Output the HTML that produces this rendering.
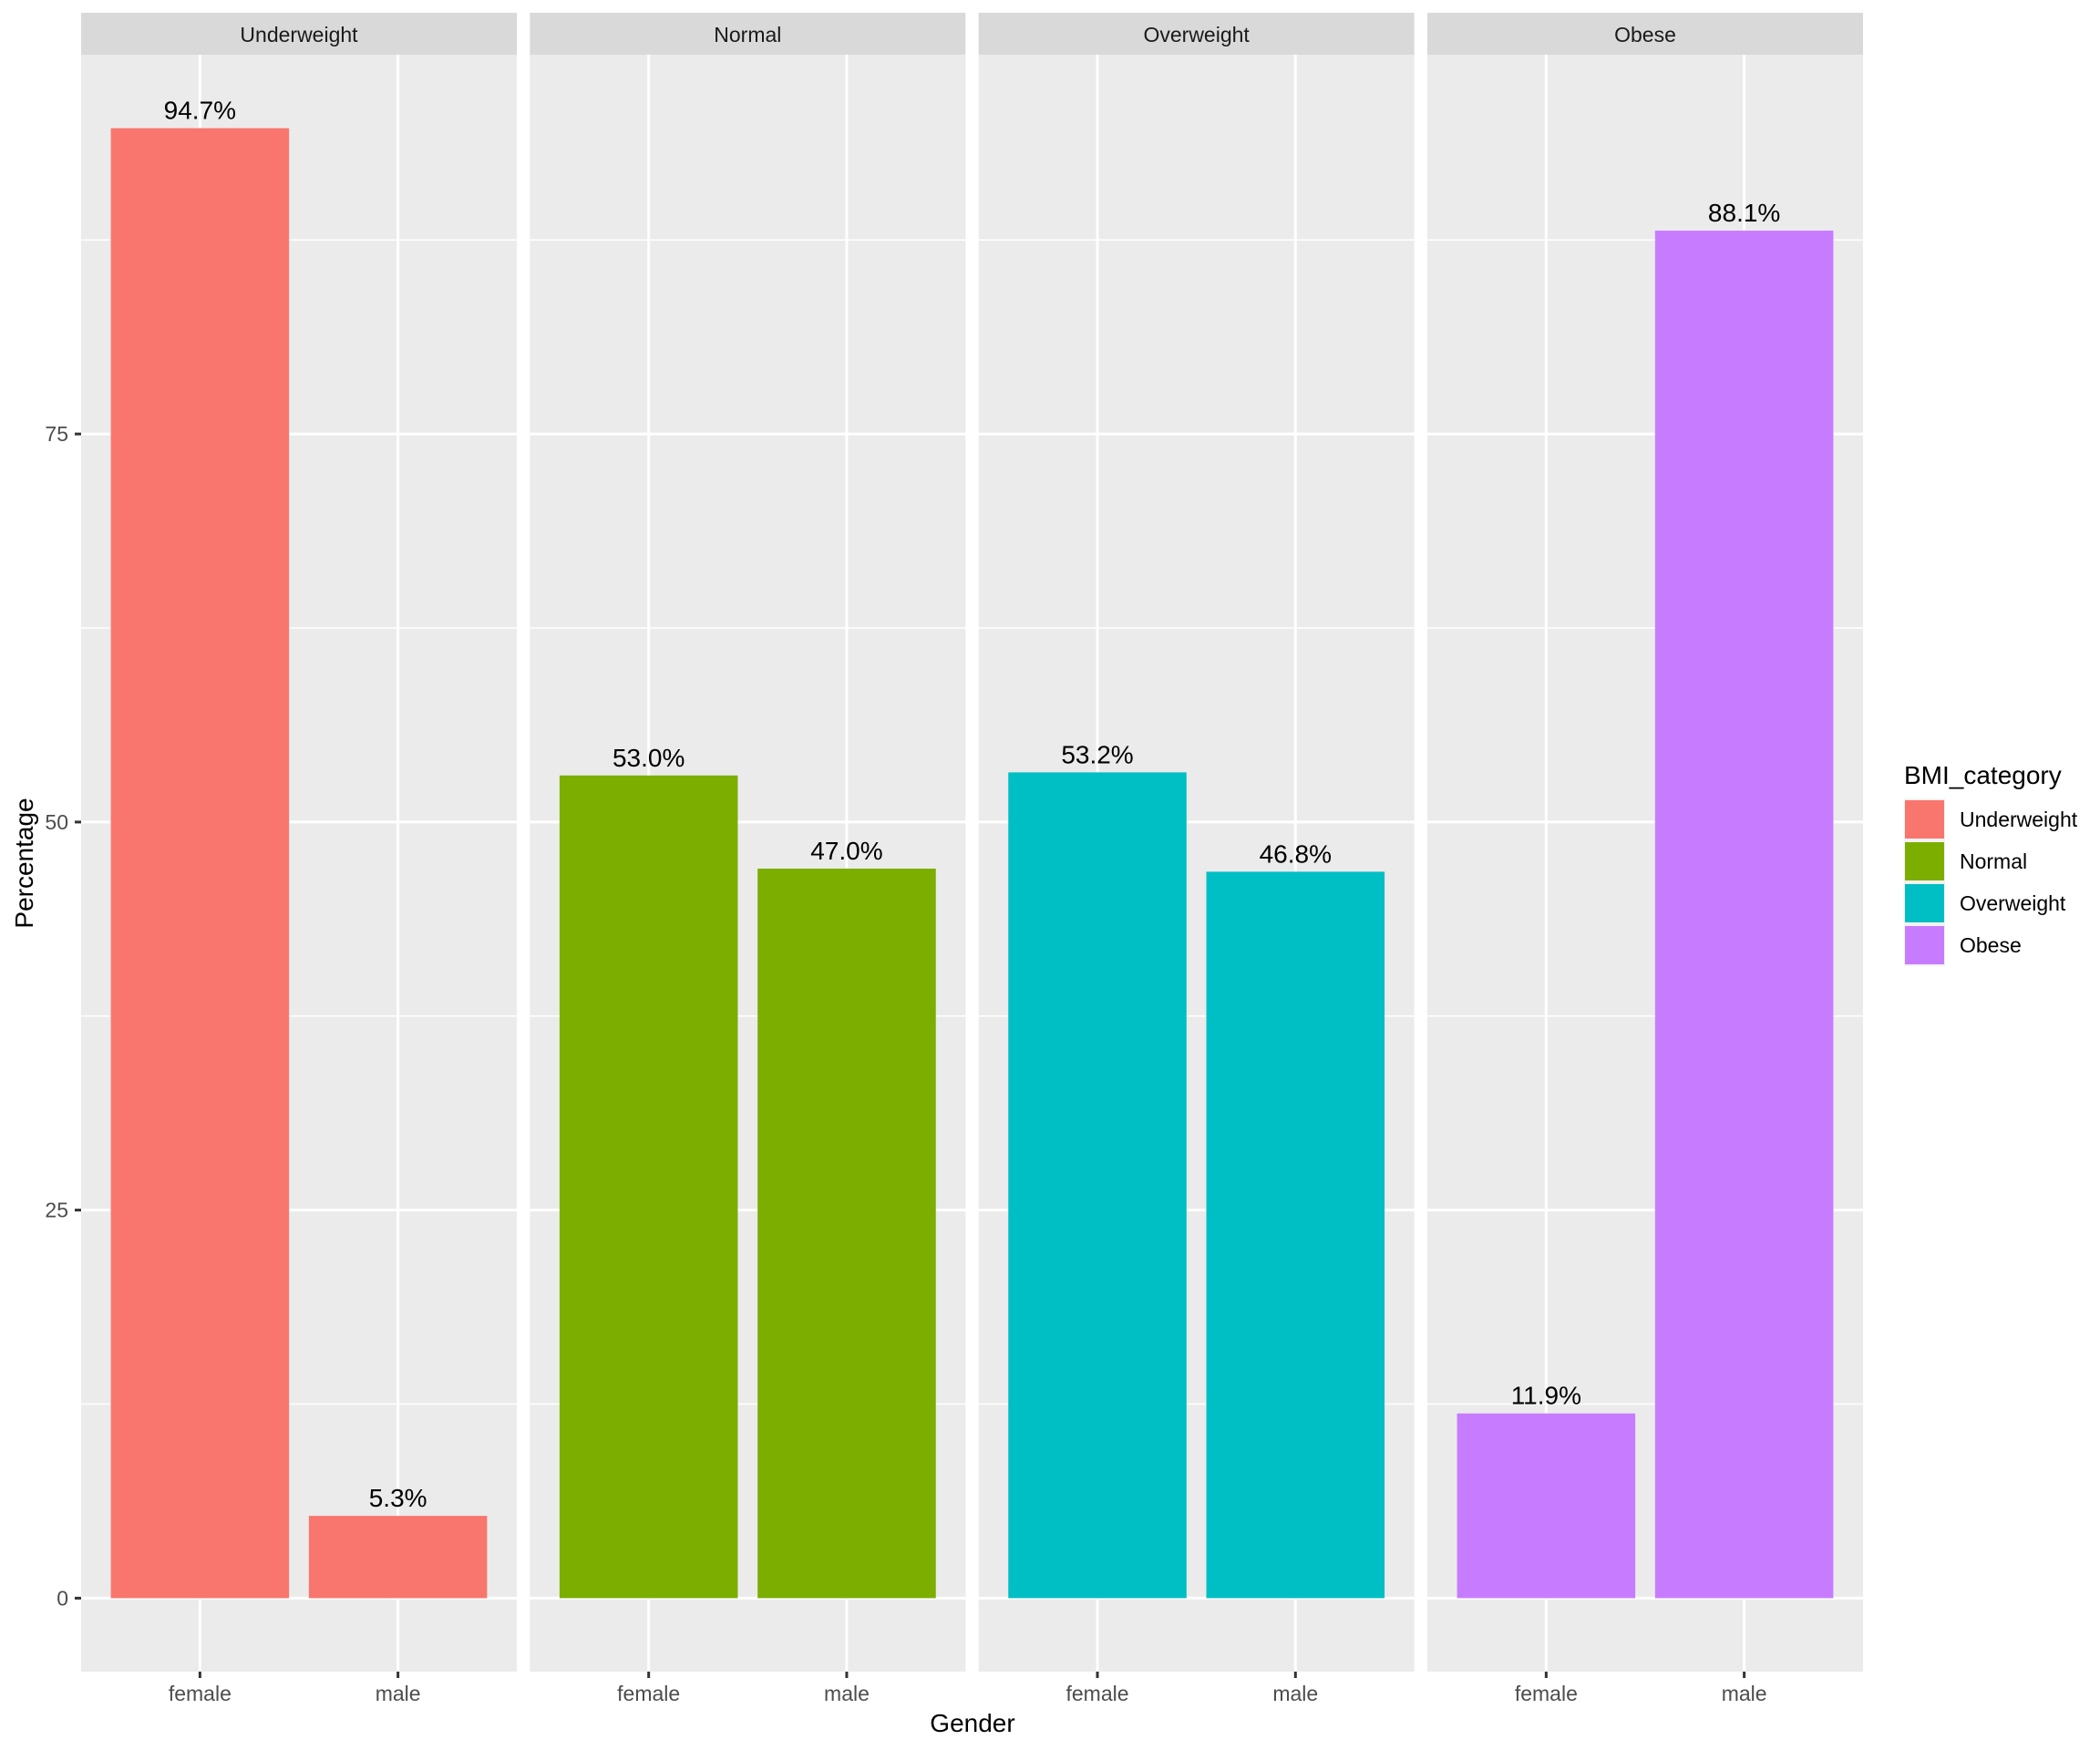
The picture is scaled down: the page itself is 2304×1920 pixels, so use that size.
<!DOCTYPE html>
<html><head><meta charset="utf-8"><style>body{margin:0;background:#fff}svg{display:block}</style></head><body>
<svg width="2304" height="1920" xmlns="http://www.w3.org/2000/svg" font-family="Liberation Sans, Arial, sans-serif">
<rect width="2304" height="1920" fill="#fff"/>
<g id="panels"></g>
<script>
(function(){
var ns="http://www.w3.org/2000/svg";
var g=document.getElementById('panels');
function el(t,a,txt){var e=document.createElementNS(ns,t);for(var k in a)e.setAttribute(k,a[k]);if(txt!=null)e.textContent=txt;g.appendChild(e);return e;}
var top=60,bot=1834,W=478,pitch=492.33,x0=89;
var zero=1753.4,pu=17.03;
function Y(v){return zero-v*pu;}
var names=["Underweight","Normal","Overweight","Obese"];
var cols=["#F8766D","#7CAE00","#00BFC4","#C77CFF"];
var vals=[[94.7,5.3],[53.0,47.0],[53.2,46.8],[11.9,88.1]];
var unit=W/2.2;
for(var i=0;i<4;i++){
 var px=x0+i*pitch;
 el('rect',{x:px,y:14,width:W,height:46,fill:'#D9D9D9'});
 el('text',{x:px+W/2,y:46,'font-size':23,fill:'#1A1A1A','text-anchor':'middle'},names[i]);
 el('rect',{x:px,y:top,width:W,height:bot-top,fill:'#EBEBEB'});
 [12.5,37.5,62.5,87.5].forEach(function(v){el('line',{x1:px,x2:px+W,y1:Y(v),y2:Y(v),stroke:'#fff','stroke-width':1.5});});
 [0,25,50,75].forEach(function(v){el('line',{x1:px,x2:px+W,y1:Y(v),y2:Y(v),stroke:'#fff','stroke-width':3});});
 for(var j=0;j<2;j++){
  var cx=px+unit*(0.6+j);
  el('line',{x1:cx,x2:cx,y1:top,y2:bot,stroke:'#fff','stroke-width':3});
 }
 for(var j=0;j<2;j++){
  var cx=px+unit*(0.6+j),bw=unit*0.9,v=vals[i][j];
  el('rect',{x:cx-bw/2,y:Y(v),width:bw,height:zero-Y(v),fill:cols[i]});
  el('text',{x:cx,y:Y(v)-10,'font-size':28,fill:'#000','text-anchor':'middle'},v.toFixed(1)+'%');
  el('line',{x1:cx,x2:cx,y1:bot,y2:bot+7,stroke:'#333','stroke-width':3});
  el('text',{x:cx,y:1866,'font-size':23,fill:'#4D4D4D','text-anchor':'middle'},j==0?'female':'male');
 }
}
[0,25,50,75].forEach(function(v){
 el('line',{x1:82,x2:89,y1:Y(v),y2:Y(v),stroke:'#333','stroke-width':3});
 el('text',{x:75,y:Y(v)+8,'font-size':23,fill:'#4D4D4D','text-anchor':'end'},String(v));
});
el('text',{x:1067,y:1900,'font-size':28,fill:'#000','text-anchor':'middle'},'Gender');
el('text',{x:0,y:0,'font-size':28,fill:'#000','text-anchor':'middle',transform:'translate(36,947) rotate(-90)'},'Percentage');
el('text',{x:2089,y:860,'font-size':28,fill:'#000'},'BMI_category');
for(var k=0;k<4;k++){
 var ky=876+k*46;
 el('rect',{x:2089,y:ky,width:45,height:46,fill:'#F2F2F2'});
 el('rect',{x:2090,y:ky+2,width:43,height:42,fill:cols[k]});
 el('text',{x:2150,y:ky+31,'font-size':23,fill:'#000'},names[k]);
}
})();
</script>
</svg>
</body></html>
